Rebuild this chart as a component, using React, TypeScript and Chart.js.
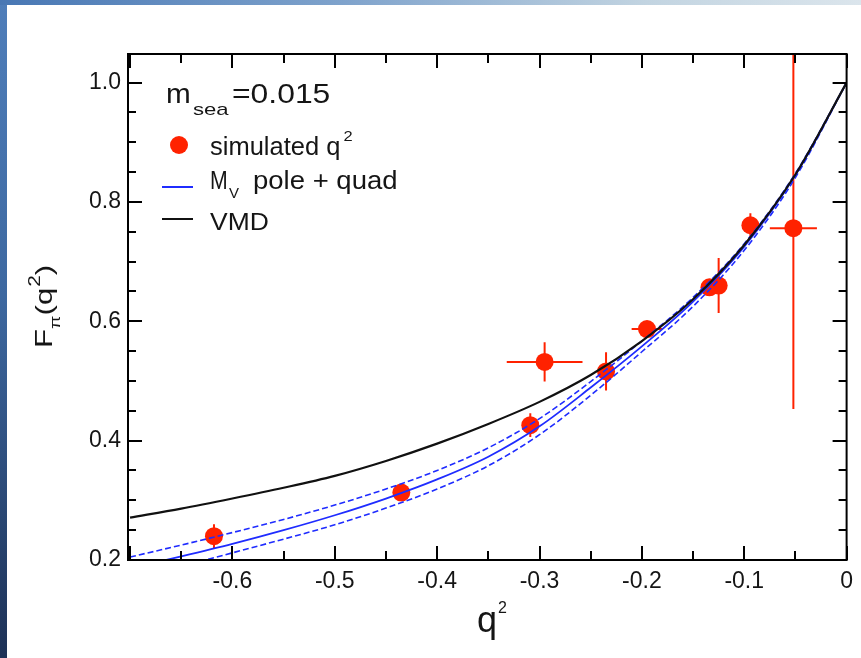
import React, { useEffect, useRef } from "react";
import { Chart, registerables } from "chart.js";

Chart.register(...registerables);

// ---- data ----
const curveQ = [-0.7, -0.65, -0.6, -0.55, -0.5, -0.45, -0.4, -0.35, -0.3, -0.25, -0.2, -0.15, -0.1, -0.05, 0.0];
const vmdF = [0.271, 0.286, 0.303, 0.321, 0.341, 0.366, 0.395, 0.428, 0.465, 0.51, 0.567, 0.637, 0.728, 0.846, 1.0];
const fitF = [0.186, 0.206, 0.227, 0.25, 0.275, 0.303, 0.335, 0.373, 0.424, 0.489, 0.558, 0.633, 0.725, 0.845, 1.0];
const fitHiF = [0.205, 0.225, 0.246, 0.268, 0.292, 0.319, 0.35, 0.388, 0.437, 0.499, 0.567, 0.64, 0.73, 0.848, 1.0];
const fitLoF = [0.165, 0.189, 0.212, 0.235, 0.259, 0.287, 0.319, 0.358, 0.41, 0.476, 0.549, 0.625, 0.719, 0.841, 1.0];

const pointQ = [-0.618, -0.435, -0.309, -0.295, -0.235, -0.195, -0.134, -0.125, -0.094, -0.052];
const pointF = [0.24, 0.313, 0.426, 0.532, 0.516, 0.587, 0.657, 0.66, 0.761, 0.756];
const pointQErr = [0, 0, 0, 0.037, 0, 0.015, 0, 0, 0, 0.023];
const pointFErr = [0.02, 0.012, 0.02, 0.033, 0.032, 0.01, 0.01, 0.046, 0.02, 0.303];

const X_MIN = -0.702;
const X_MAX = 0;
const Y_MIN = 0.2;
const Y_MAX = 1.048;
const X_STEP = 0.1;
const Y_STEP = 0.2;
const X_MINOR = 0.05;
const Y_MINOR = 0.05;

const FONT = '"Liberation Sans", Arial, Helvetica, sans-serif';
const RED = "#ff2200";
const BLUE = "#1f2cff";
const INK = "#151515";

function txt(ctx: CanvasRenderingContext2D, s: string, x: number, y: number, size: number, sx = 1) {
  ctx.save();
  ctx.font = `${size}px ${FONT}`;
  ctx.textBaseline = "alphabetic";
  ctx.textAlign = "left";
  ctx.translate(x, y);
  ctx.scale(sx, 1);
  ctx.fillText(s, 0, 0);
  const w = ctx.measureText(s).width * sx;
  ctx.restore();
  return w;
}

const errorBars = {
  id: "errorBars",
  beforeDatasetsDraw(chart: any) {
    const { ctx, chartArea, scales } = chart;
    const xs = scales.x;
    const ys = scales.y;
    ctx.save();
    ctx.beginPath();
    ctx.rect(chartArea.left, chartArea.top, chartArea.right - chartArea.left, chartArea.bottom - chartArea.top);
    ctx.clip();
    ctx.strokeStyle = RED;
    ctx.lineWidth = 2;
    for (let i = 0; i < pointQ.length; i++) {
      const px = xs.getPixelForValue(pointQ[i]);
      const py = ys.getPixelForValue(pointF[i]);
      if (pointFErr[i] > 0) {
        ctx.beginPath();
        ctx.moveTo(px, ys.getPixelForValue(pointF[i] - pointFErr[i]));
        ctx.lineTo(px, ys.getPixelForValue(pointF[i] + pointFErr[i]));
        ctx.stroke();
      }
      if (pointQErr[i] > 0) {
        ctx.beginPath();
        ctx.moveTo(xs.getPixelForValue(pointQ[i] - pointQErr[i]), py);
        ctx.lineTo(xs.getPixelForValue(pointQ[i] + pointQErr[i]), py);
        ctx.stroke();
      }
    }
    ctx.restore();
  },
};

const frameAndTicks = {
  id: "frameAndTicks",
  afterDatasetsDraw(chart: any) {
    const { ctx, chartArea, scales } = chart;
    const { left, right, top, bottom } = chartArea;
    const xs = scales.x;
    const ys = scales.y;
    ctx.save();
    ctx.strokeStyle = "#000";
    ctx.lineWidth = 2;
    ctx.strokeRect(left, top, right - left, bottom - top);
    ctx.lineWidth = 2;
    const nx = Math.round((X_MAX - -0.7) / X_MINOR);
    for (let i = 0; i <= nx; i++) {
      const v = -0.7 + i * X_MINOR;
      if (v < X_MIN) continue;
      const major = i % 2 === 0;
      const len = major ? 14 : 9;
      const p = Math.round(xs.getPixelForValue(v));
      ctx.beginPath();
      ctx.moveTo(p, bottom);
      ctx.lineTo(p, bottom - len);
      ctx.moveTo(p, top);
      ctx.lineTo(p, top + len);
      ctx.stroke();
    }
    const ny = Math.round((1.0 - Y_MIN) / Y_MINOR);
    for (let i = 0; i <= ny; i++) {
      const v = Y_MIN + i * Y_MINOR;
      const major = i % 4 === 0;
      const len = major ? 14 : 8;
      const p = Math.round(ys.getPixelForValue(v));
      ctx.beginPath();
      ctx.moveTo(left, p);
      ctx.lineTo(left + len, p);
      ctx.moveTo(right, p);
      ctx.lineTo(right - len, p);
      ctx.stroke();
    }
    ctx.restore();
  },
  afterDraw(chart: any) {
    const { ctx } = chart;
    ctx.save();
    ctx.fillStyle = INK;
    // legend block
    txt(ctx, "m", 166, 103, 27, 1.1);
    txt(ctx, "sea", 193, 115, 17, 1.3);
    txt(ctx, "=0.015", 232, 103, 27, 1.18);

    ctx.fillStyle = RED;
    ctx.beginPath();
    ctx.arc(179, 145, 9, 0, Math.PI * 2);
    ctx.fill();
    ctx.fillStyle = INK;
    const w1 = txt(ctx, "simulated q", 210, 155, 25, 1.02);
    txt(ctx, "2", 210 + w1 + 3, 141, 15, 1.1);

    ctx.strokeStyle = BLUE;
    ctx.lineWidth = 2;
    ctx.beginPath();
    ctx.moveTo(162, 187);
    ctx.lineTo(193, 187);
    ctx.stroke();
    txt(ctx, "M", 210, 189, 25, 0.85);
    txt(ctx, "V", 229, 198, 15, 1.0);
    txt(ctx, "pole + quad", 253, 189, 25, 1.1);

    ctx.strokeStyle = "#111";
    ctx.beginPath();
    ctx.moveTo(162, 219);
    ctx.lineTo(193, 219);
    ctx.stroke();
    txt(ctx, "VMD", 210, 230, 23, 1.15);

    // x axis title
    const wq = txt(ctx, "q", 477, 632, 36, 1);
    txt(ctx, "2", 477 + wq + 1, 613, 16, 1);

    // y axis title (rotated)
    ctx.save();
    ctx.translate(52, 348);
    ctx.rotate(-Math.PI / 2);
    let x = 0;
    x += txt(ctx, "F", x, 0, 24, 1.3);
    x += txt(ctx, "π", x, 8, 15, 1.3);
    x += txt(ctx, "(q", x, 0, 24, 1.3);
    x += txt(ctx, "2", x + 1, -12, 16, 1.3) + 1;
    txt(ctx, ")", x, 0, 24, 1.3);
    ctx.restore();

    ctx.restore();
  },
};

export default function App() {
  const ref = useRef<HTMLCanvasElement | null>(null);

  useEffect(() => {
    if (!ref.current) return;
    const line = (data: number[]) => curveQ.map((q, i) => ({ x: q, y: data[i] }));
    const chart = new Chart(ref.current, {
      type: "line",
      data: {
        datasets: [
          {
            label: "VMD",
            data: line(vmdF),
            borderColor: "#111",
            borderWidth: 2.2,
            pointRadius: 0,
            cubicInterpolationMode: "monotone",
          },
          {
            label: "Mv pole + quad",
            data: line(fitF),
            borderColor: BLUE,
            borderWidth: 1.8,
            pointRadius: 0,
            cubicInterpolationMode: "monotone",
          },
          {
            label: "upper",
            data: line(fitHiF),
            borderColor: BLUE,
            borderWidth: 1.6,
            borderDash: [6, 3],
            pointRadius: 0,
            cubicInterpolationMode: "monotone",
          },
          {
            label: "lower",
            data: line(fitLoF),
            borderColor: BLUE,
            borderWidth: 1.6,
            borderDash: [6, 3],
            pointRadius: 0,
            cubicInterpolationMode: "monotone",
          },
          {
            label: "simulated q2",
            data: pointQ.map((q, i) => ({ x: q, y: pointF[i] })),
            showLine: false,
            pointRadius: 9,
            pointBackgroundColor: RED,
            pointBorderWidth: 0,
            borderColor: RED,
          },
        ],
      } as any,
      options: {
        animation: false,
        responsive: false,
        maintainAspectRatio: false,
        layout: { padding: { top: 54, right: 8, left: 0, bottom: 0 } },
        plugins: { legend: { display: false }, tooltip: { enabled: false } },
        scales: {
          x: {
            type: "linear",
            min: X_MIN,
            max: X_MAX,
            grid: { display: false, drawTicks: false },
            border: { display: false },
            ticks: {
              stepSize: X_STEP,
              autoSkip: false,
              includeBounds: false,
              maxRotation: 0,
              padding: 8,
              color: INK,
              font: { family: FONT, size: 23 },
              callback: (v: any) => {
                const n = Number(v);
                if (n < -0.65) return null;
                if (Math.abs(n) < 1e-9) return "0";
                return n.toFixed(1);
              },
            },
            afterFit: (s: any) => {
              s.height = 98;
            },
          },
          y: {
            type: "linear",
            min: Y_MIN,
            max: Y_MAX,
            grid: { display: false, drawTicks: false },
            border: { display: false },
            ticks: {
              stepSize: Y_STEP,
              autoSkip: false,
              includeBounds: false,
              padding: 7,
              color: INK,
              font: { family: FONT, size: 23 },
              callback: (v: any) => Number(v).toFixed(1),
            },
            afterFit: (s: any) => {
              s.width = 128;
            },
          },
        },
      } as any,
      plugins: [errorBars, frameAndTicks],
    });
    return () => chart.destroy();
  }, []);

  return (
    <div
      style={{
        position: "fixed",
        left: 0,
        top: 0,
        width: 861,
        height: 658,
        overflow: "hidden",
        background: "linear-gradient(to bottom, #4f7eba, #3d68a0 45%, #1d3156)",
      }}
    >
      <div
        style={{
          position: "absolute",
          left: 0,
          top: 0,
          width: 861,
          height: 5,
          background: "linear-gradient(to right, #4877b4, #7fa3cc 40%, #c2d4e1 75%, #dbe5ec)",
        }}
      />
      <div style={{ position: "absolute", left: 7, top: 5, right: 0, bottom: 0, background: "#fff" }} />
      <canvas ref={ref} width={861} height={658} style={{ position: "absolute", left: 0, top: 0, width: 861, height: 658 }} />
    </div>
  );
}
